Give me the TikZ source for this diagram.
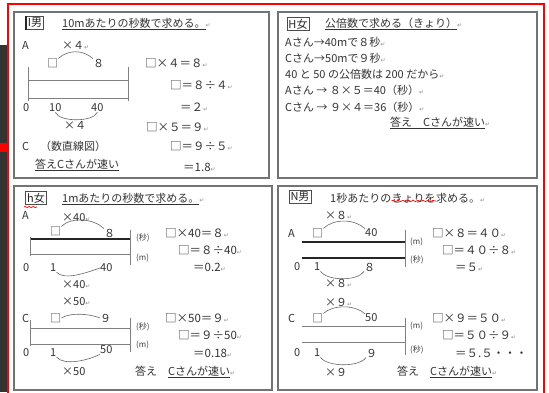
\documentclass[tikz,border=0pt]{standalone}
\usepackage{fontspec}
\setmainfont{Noto Sans CJK JP}
\newfontfamily\dvfont{DejaVu Sans}
\usetikzlibrary{decorations.pathmorphing}
\newcommand{\rt}{{\dvfont\fontsize{6}{7}\selectfont\color{black!45}↵}}
\newcommand{\fsz}{\fontsize{11}{13}\selectfont}
\newcommand{\ulx}[1]{\underline{#1}}
\begin{document}
\begin{tikzpicture}[x=1pt,y=-1pt,
  t/.style={anchor=west,inner sep=0pt,font=\fsz,text=black!80},
  eq/.style={anchor=west,inner sep=0pt,font=\fontsize{11.5}{13}\selectfont,text=black!80},
  unit/.style={anchor=west,inner sep=0pt,font=\fontsize{8}{9}\selectfont,text=black!75},
  panel/.style={draw=black!55,line width=1.3pt},
  nl/.style={draw=black!50,line width=0.8pt},
  nlk/.style={draw=black!85,line width=1.2pt},
  arcl/.style={draw=black!60,line width=0.6pt},
  lbl/.style={draw=black!70,line width=0.8pt,inner sep=1.5pt,font=\fsz,text=black!85}]
\useasboundingbox (0,0) rectangle (549,392);
\fill[white] (0,0) rectangle (549,392);
\fill[black!80] (0,45) rectangle (7,392);
\fill[red] (0,143) rectangle (9,152);
\draw[red,line width=1.2pt] (8,400) -- (8,4) -- (544,4) -- (544,400);
% panels
\draw[panel] (14,12) rectangle (269,178);
\draw[panel] (278,12) rectangle (537,178);
\draw[panel] (14,186) rectangle (272,390);
\draw[panel] (278,186) rectangle (537,390);

% ---------- top-left ----------
\node[lbl] (lbI) at (35,23) {I男};
\draw[black!85,line width=1.6pt] (lbI.north west) -- (lbI.south west);
\node[t] (ttl1) at (62,24) {\ulx{10mあたりの秒数で求める。}\rt};
\node[t] (tA1) at (22,45) {A};
\node[t] (m41) at (62,45) {×４\rt};
\node[t] (bx1) at (47,63) {□};
\node[t] (n81) at (93,63) {８};
\draw[arcl] (bx1.north east) .. controls +(10,-9) and +(-10,-9) .. (n81.north west);
\draw[nl] (28,67) -- (28,101);
\draw[nl] (28,80) -- (128,80);
\draw[nl] (28,98) -- (128,98);
\draw[nl] (128,67) -- (128,101);
\node[t] (z1) at (23,108) {0};
\node[t] (n101) at (49,108) {10};
\node[t] (n401) at (91,108) {40};
\draw[arcl] (n101.south) .. controls +(4,10) and +(-4,10) .. (n401.south);
\node[t] (m41b) at (64,125) {×４};
\node[t] (tC1) at (22,146) {C　（数直線図）};
\node[t] (ans1) at (35,165) {\ulx{答えCさんが速い}};
\node[eq] (e11) at (145,63) {□×４＝８\rt};
\node[eq] (e12) at (170,85) {□＝８÷４\rt};
\node[eq] (e13) at (180,107) {＝２\rt};
\node[eq] (e14) at (146,127) {□×５＝９\rt};
\node[eq] (e15) at (170,146) {□＝９÷５\rt};
\node[eq] (e16) at (183,167) {＝1.8\rt};

% ---------- top-right ----------
\node[lbl] (lbH) at (298,24) {H女};
\node[t] (ttl2) at (325,24) {\ulx{公倍数で求める（きょり）}\rt};
\node[t] (r1) at (285,42) {Aさん→40mで８秒\rt};
\node[t] (r2) at (285,58) {Cさん→50mで９秒\rt};
\node[t] (r3) at (285,74) {40 と 50 の公倍数は 200 だから\rt};
\node[t] (r4) at (285,90) {Aさん → ８×５＝40（秒）\rt};
\node[t] (r5) at (285,107) {Cさん → ９×４＝36（秒）\rt};
\node[t] (ans2) at (390,123) {\ulx{答え　Cさんが速い}\rt};

% ---------- bottom-left ----------
\node[lbl] (lbh) at (36,198) {h女};
\draw[red,line width=0.7pt,decorate,decoration={snake,amplitude=0.6pt,segment length=4pt}] (24,207) -- (37,207);
\node[t] (ttl3) at (62,199) {\ulx{1mあたりの秒数で求める。}\rt};
\node[t] (tA3) at (22,215) {A};
\node[t] (m403) at (62,218) {×40\rt};
\node[t] (bx3) at (50,231) {□};
\node[t] (n83) at (104,233) {８};
\draw[arcl] (bx3.north east) .. controls +(10,-10) and +(-10,-10) .. (n83.north west);
\draw[nlk] (30,239) -- (130,239);
\draw[nl] (30,254) -- (130,254);
\draw[nl] (30,237) -- (30,256);
\draw[nl] (130,230) -- (130,265);
\node[unit] (u3a) at (136,238) {(秒)};
\node[unit] (u3b) at (136,258) {(m)};
\node[t] (z3) at (23,268) {0};
\node[t] (o3) at (50,268) {1};
\node[t] (n403) at (100,268) {40};
\draw[arcl] (o3.south east) .. controls +(8,9) and +(-12,4) .. (n403.west);
\node[t] (m403b) at (62,285) {×40\rt};
\node[t] (m503) at (62,302) {×50\rt};
\node[t] (tC3) at (22,318) {C};
\node[t] (bx3c) at (50,318) {□};
\node[t] (n93) at (100,318) {９};
\draw[arcl] (bx3c.east) .. controls +(10,-6) and +(-10,-4) .. (n93.west);
\draw[nl] (30,328) -- (130,328);
\draw[nl] (30,344) -- (130,344);
\draw[nl] (30,320) -- (30,346);
\draw[nl] (130,318) -- (130,352);
\node[unit] (u3c) at (136,327) {(秒)};
\node[unit] (u3d) at (136,345) {(m)};
\node[t] (z3c) at (23,353) {0};
\node[t] (o3c) at (50,353) {1};
\node[t] (n503) at (100,350) {50};
\draw[arcl] (o3c.south east) .. controls +(8,9) and +(-12,6) .. (n503.south west);
\node[t] (m503b) at (62,372) {×50};
\node[t] (ans3) at (135,372) {答え　\ulx{Cさんが速い}\rt};
\node[eq] (e31) at (165,233) {□×40＝８\rt};
\node[eq] (e32) at (178,250) {□＝８÷40\rt};
\node[eq] (e33) at (193,267) {＝0.2\rt};
\node[eq] (e34) at (165,318) {□×50＝９\rt};
\node[eq] (e35) at (178,335) {□＝９÷50\rt};
\node[eq] (e36) at (193,353) {＝0.18\rt};

% ---------- bottom-right ----------
\node[lbl] (lbN) at (300,197) {N男};
\node[t] (ttl4a) at (330,198) {1秒あたりの};
\node[t,anchor=west] (ttl4b) at (ttl4a.east) {きょりを};
\node[t,anchor=west] (ttl4c) at (ttl4b.east) {求める。\rt};
\draw[red,line width=0.7pt,decorate,decoration={snake,amplitude=0.6pt,segment length=5pt}] ([yshift=2pt]ttl4b.south west) -- ([yshift=2pt]ttl4b.south east);
\node[t] (m84) at (325,215) {×８\rt};
\node[t] (tA4) at (288,233) {A};
\node[t] (bx4) at (312,233) {□};
\node[t] (n404) at (365,233) {40};
\draw[arcl] (bx4.north east) .. controls +(10,-10) and +(-10,-10) .. (n404.north west);
\draw[nlk] (302,242) -- (405,242);
\draw[nlk] (302,258) -- (405,258);
\draw[nl] (405,230) -- (405,267);
\node[unit] (u4a) at (410,242) {(m)};
\node[unit] (u4b) at (410,260) {(秒)};
\node[t] (z4) at (294,267) {0};
\node[t] (o4) at (314,267) {1};
\node[t] (n84) at (364,267) {８};
\draw[arcl] (o4.south east) .. controls +(6,10) and +(-6,10) .. (n84.south west);
\node[t] (m84b) at (325,283) {×８\rt};
\node[t] (m94) at (325,302) {×９\rt};
\node[t] (tC4) at (288,318) {C};
\node[t] (bx4c) at (312,318) {□};
\node[t] (n504) at (365,318) {50};
\draw[arcl] (bx4c.north east) .. controls +(10,-9) and +(-10,-9) .. (n504.north west);
\draw[nl] (302,326) -- (405,326);
\draw[nl] (302,342) -- (405,342);
\draw[nl] (405,318) -- (405,355);
\node[unit] (u4c) at (410,326) {(m)};
\node[unit] (u4d) at (410,350) {(秒)};
\node[t] (z4c) at (294,353) {0};
\node[t] (o4c) at (314,353) {1};
\node[t] (n94) at (366,353) {９};
\draw[arcl] (o4c.south east) .. controls +(6,10) and +(-6,10) .. (n94.south west);
\node[t] (m94b) at (325,372) {×９};
\node[t] (ans4) at (397,372) {答え　\ulx{Cさんが速い}\rt};
\node[eq] (e41) at (432,233) {□×８＝４０\rt};
\node[eq] (e42) at (442,250) {□＝４０÷８\rt};
\node[eq] (e43) at (455,267) {＝５\rt};
\node[eq] (e44) at (432,318) {□×９＝５０\rt};
\node[eq] (e45) at (442,335) {□＝５０÷９\rt};
\node[eq] (e46) at (455,353) {＝５.５・・・};
\end{tikzpicture}
\end{document}
